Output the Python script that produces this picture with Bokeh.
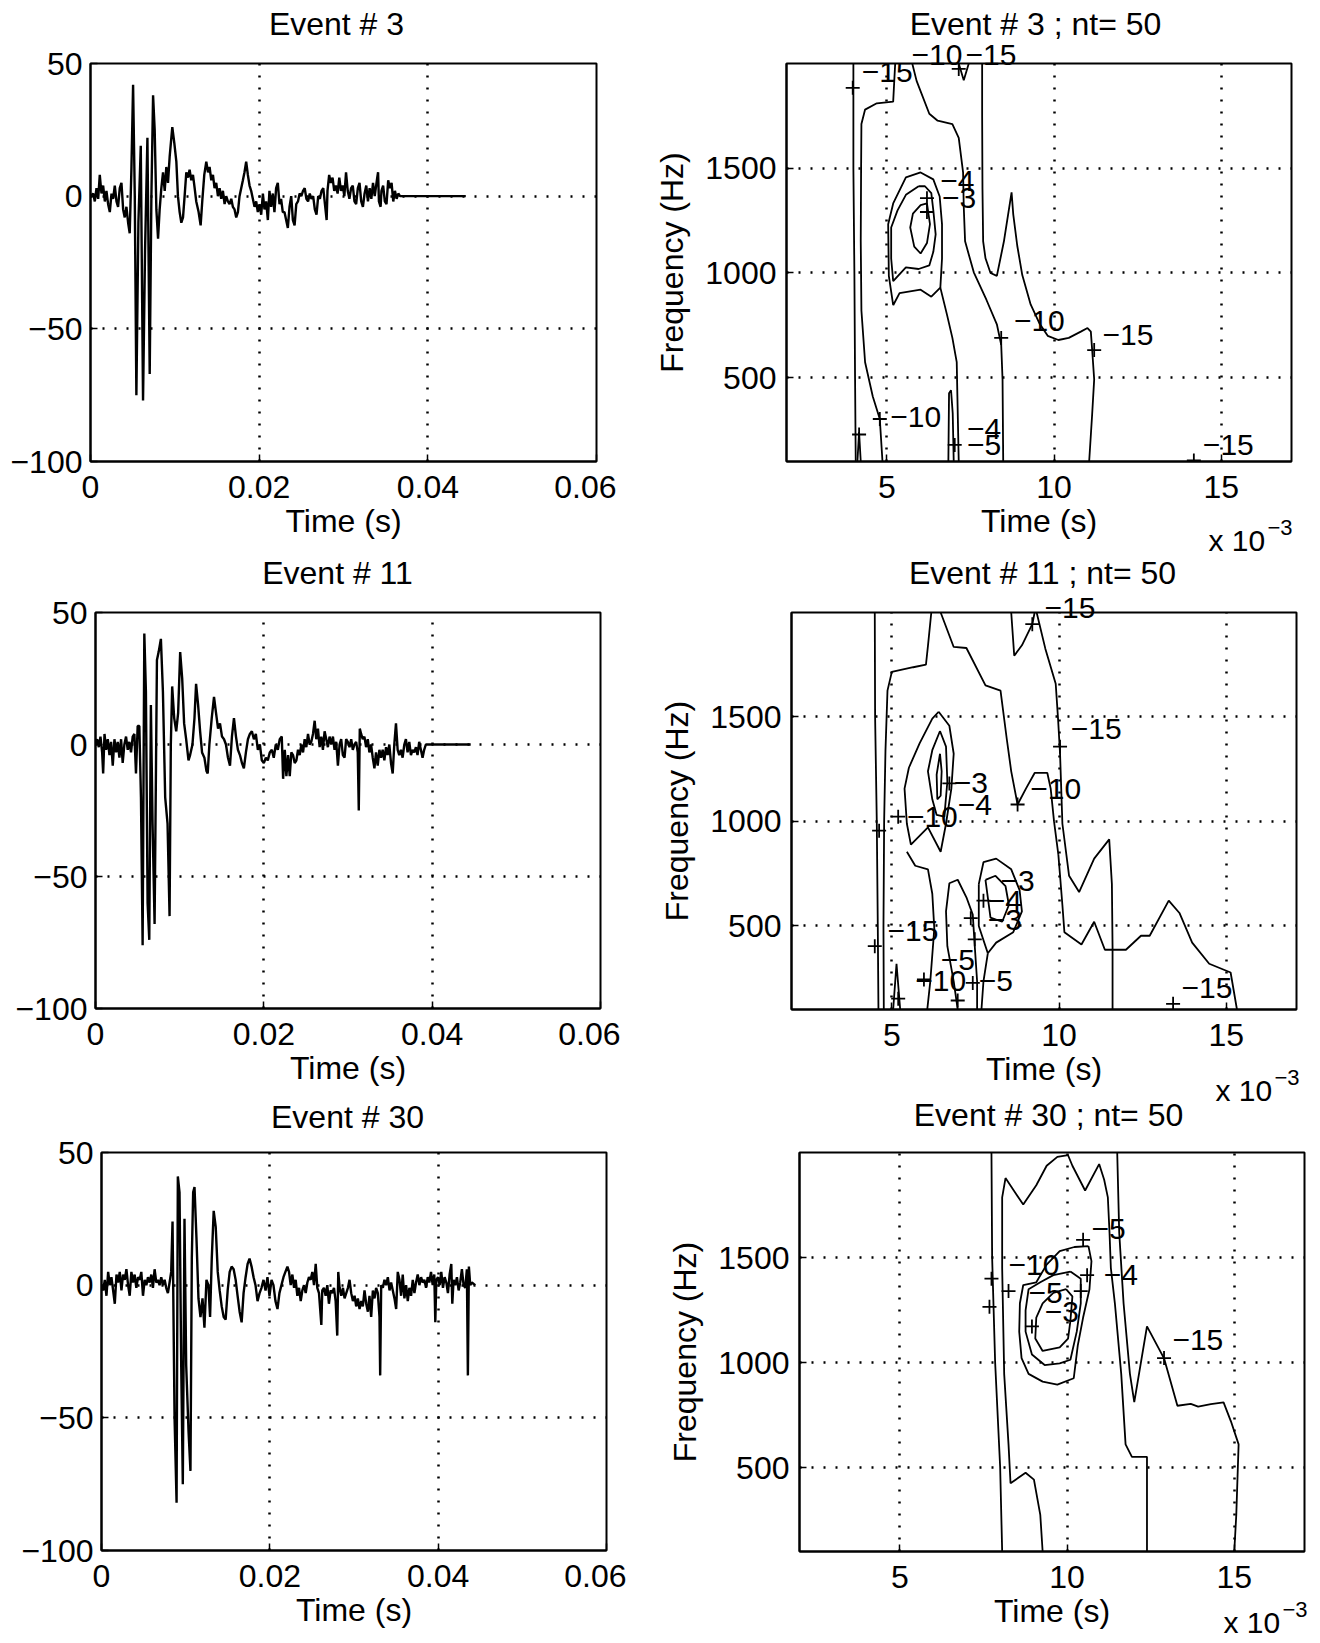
from bokeh.plotting import figure
from bokeh.layouts import column, row
from bokeh.models import Range1d, FixedTicker, LabelSet, ColumnDataSource, GridBox
from bokeh.embed import file_html
from bokeh.resources import INLINE
from bokeh.core.properties import value

FONT = "Liberation Sans"

# ---------------- waveform data: (time in ms, amplitude) ----------------
EV3 = [
(0.0,0),(0.32,1),(0.51,-2),(0.71,3),(0.91,-1),(1.10,8),(1.30,1),(1.50,4),(1.70,-2),(1.89,2),
(2.09,-3),(2.29,-6),(2.49,1),(2.68,-1),(2.88,4),(3.08,-2),(3.27,-4),(3.47,3),(3.67,5),(3.87,-5),
(4.06,-8),(4.26,-4),(4.46,-10),(4.65,-14),(4.85,10),(5.05,42),(5.25,0),(5.44,-75),(5.68,-10),(5.96,19),
(6.23,-77),(6.47,-20),(6.75,22),(7.02,-67),(7.22,0),(7.42,38),(7.61,25),(7.81,-5),(8.01,-16),(8.20,-5),
(8.40,3),(8.60,9),(8.80,2),(8.99,11),(9.19,5),(9.39,15),(9.70,26),(9.94,20),(10.18,13),(10.37,0),
(10.57,-6),(10.77,-10),(10.97,-8),(11.16,0),(11.36,9),(11.56,7),(11.75,10),(11.95,6),(12.15,8),(12.35,3),
(12.54,-2),(12.82,-6),(13.06,-11),(13.25,-2),(13.49,8),(13.73,13),(13.93,9),(14.12,11),(14.32,6),(14.52,8),
(14.71,3),(14.91,5),(15.11,0),(15.31,3),(15.50,-1),(15.70,2),(15.90,-3),(16.09,0),(16.29,-2),(16.49,-3),
(16.69,-1),(16.88,-4),(17.08,-5),(17.28,-8),(17.48,-6),(17.67,0),(17.87,3),(18.07,6),(18.26,9),(18.46,13),
(18.66,8),(18.86,4),(19.05,2),(19.25,-1),(19.45,-4),(19.65,-2),(19.84,-6),(20.04,-3),(20.24,-7),(20.44,1),
(20.63,-5),(20.83,-2),(21.03,-9),(21.22,2),(21.42,-4),(21.62,1),(21.81,-6),(22.01,3),(22.21,5),(22.41,-3),
(22.60,-1),(22.8,-6),(23.0,-6),(23.2,-9),(23.4,-12),(23.6,-4),(23.8,0),(24.0,-9),(24.2,-11),(24.4,-3),
(24.6,-2),(24.8,1),(25.0,0),(25.2,2),(25.4,3),(25.6,-1),(25.8,-2),(26.0,1),(26.2,-1),(26.4,0),
(26.6,-5),(26.8,-7),(27.0,0),(27.2,-1),(27.4,2),(27.6,3),(27.8,-3),(28.0,-9),(28.1,2),(28.3,8),
(28.5,5),(28.7,7),(28.9,2),(29.1,4),(29.3,1),(29.5,7),(29.7,2),(29.9,4),(30.1,0),(30.3,9),
(30.5,2),(30.7,-1),(30.9,3),(31.1,4),(31.3,-2),(31.5,-3),(31.7,3),(31.9,5),(32.1,-2),(32.3,-4),
(32.5,1),(32.7,4),(32.9,-2),(33.1,3),(33.3,-1),(33.5,5),(33.7,0),(34.0,7),(34.1,9),(34.2,-2),
(34.4,-4),(34.5,2),(34.7,4),(34.9,-2),(35.1,-3),(35.3,6),(35.5,3),(35.7,5),(35.9,-2),(36.1,2),
(36.3,-1),(36.5,1),(36.7,0),(36.8,0),(44.5,0)]

EV11 = [
(0.0,0),(0.2,2),(0.39,-1),(0.59,3),(0.79,-3),(0.91,-11),(1.07,4),(1.26,-2),(1.46,2),(1.66,-4),
(1.85,1),(2.05,-8),(2.25,2),(2.45,-3),(2.64,1),(2.84,-5),(3.04,2),(3.23,-7),(3.43,0),(3.63,3),
(3.83,-2),(4.02,1),(4.22,-3),(4.42,3),(4.62,4),(4.81,-11),(5.01,7),(5.21,7),(5.40,-20),(5.60,-76),
(5.80,42),(5.99,20),(6.19,-60),(6.39,-74),(6.58,15),(6.78,-30),(7.02,-68),(7.30,32),(7.50,35),(7.77,40),
(8.01,20),(8.28,-20),(8.56,-30),(8.80,-65),(8.95,0),(9.11,22),(9.35,10),(9.59,5),(9.82,12),(10.06,35),
(10.30,25),(10.53,8),(10.77,2),(11.05,-6),(11.24,-4),(11.52,0),(11.76,10),(11.95,23),(12.19,15),(12.43,5),
(12.66,-3),(12.94,-5),(13.18,-10),(13.33,-11),(13.53,0),(13.81,10),(14.08,18),(14.32,12),(14.56,6),(14.79,8),
(15.03,3),(15.27,2),(15.50,0),(15.74,-5),(15.98,-8),(16.21,3),(16.45,10),(16.69,3),(16.92,-2),(17.16,-4),
(17.40,-7),(17.63,-9),(17.87,-3),(18.11,2),(18.34,4),(18.58,5),(18.82,2),(19.05,4),(19.29,-2),(19.53,0),
(19.76,-6),(20.00,-7),(20.24,-5),(20.47,-6),(20.71,-3),(20.95,-2),(21.18,-5),(21.42,0),(21.66,-2),(21.89,2),
(22.13,3),(22.29,-13),(22.49,-2),(22.68,-12),(22.88,-4),(23.08,-12),(23.27,-3),(23.47,-4),(23.67,-7),(23.87,-6),
(24.06,-2),(24.26,-4),(24.46,0),(24.66,-3),(24.85,2),(25.05,-1),(25.25,4),(25.44,0),(25.64,1),(25.84,4),
(26.04,9),(26.23,2),(26.43,6),(26.63,-1),(26.83,3),(27.02,-2),(27.22,5),(27.42,2),(27.61,-1),(27.81,3),
(28.01,0),(28.21,3),(28.40,-2),(28.60,1),(28.80,-8),(29.00,0),(29.19,2),(29.39,-4),(29.59,-5),(29.78,2),
(29.98,1),(30.18,-1),(30.38,2),(30.57,-2),(30.77,0),(30.97,1),(31.16,-3),(31.28,-25),(31.40,6),(31.56,4),
(31.75,2),(31.95,3),(32.15,-1),(32.35,2),(32.54,-3),(32.74,0),(32.94,-5),(33.14,-9),(33.33,-3),(33.53,-8),
(33.73,-2),(33.93,-5),(34.12,-2),(34.32,-6),(34.52,-1),(34.71,-4),(34.91,0),(35.11,-7),(35.31,-11),(35.50,0),
(35.70,8),(35.90,-2),(36.09,-4),(36.29,-2),(36.49,-5),(36.69,0),(36.88,2),(37.08,-3),(37.28,1),(37.48,-4),
(37.67,-2),(37.87,-3),(38.07,-1),(38.26,-4),(38.46,1),(38.66,-2),(38.86,-5),(39.05,-2),(39.25,0),(39.45,0),
(44.58,0)]

EV30 = [
(0.0,0),(0.20,-2),(0.39,2),(0.59,-4),(0.79,5),(0.99,0),(1.18,3),(1.38,-2),(1.58,-7),(1.78,4),
(1.97,1),(2.17,5),(2.37,-2),(2.56,4),(2.76,2),(2.96,6),(3.16,0),(3.35,-4),(3.55,5),(3.75,1),
(3.94,4),(4.14,-1),(4.34,3),(4.54,2),(4.73,5),(4.93,-4),(5.13,2),(5.33,0),(5.52,3),(5.72,1),
(5.92,4),(6.11,-1),(6.31,6),(6.51,1),(6.71,2),(6.90,0),(7.10,3),(7.30,0),(7.50,2),(7.69,-1),
(7.89,-3),(8.09,1),(8.28,5),(8.44,24),(8.68,-50),(8.92,-82),(9.07,41),(9.27,35),(9.47,-30),(9.66,-75),
(9.86,25),(10.06,-30),(10.34,-55),(10.57,-70),(10.73,10),(10.89,35),(11.05,37),(11.28,18),(11.52,-5),(11.76,-12),
(12.00,-5),(12.23,-16),(12.47,2),(12.70,0),(12.90,-12),(13.10,10),(13.33,28),(13.57,22),(13.81,5),(14.04,-2),
(14.28,-8),(14.52,-12),(14.75,-13),(14.99,-2),(15.23,5),(15.46,7),(15.70,6),(15.94,2),(16.17,-4),(16.41,-10),
(16.65,-14),(16.88,-3),(17.12,3),(17.36,8),(17.59,10),(17.83,7),(18.07,3),(18.30,0),(18.54,-6),(18.78,-3),
(19.01,-1),(19.25,2),(19.49,-2),(19.72,3),(19.96,-4),(20.20,2),(20.43,0),(20.67,-6),(20.91,-9),(21.14,-3),
(21.38,0),(21.62,3),(21.85,5),(22.09,7),(22.28,5),(22.48,0),(22.68,4),(22.88,-1),(23.07,2),(23.27,-4),
(23.47,-1),(23.67,-6),(23.86,-2),(24.06,0),(24.26,-3),(24.46,1),(24.65,3),(24.85,2),(25.05,5),(25.25,0),
(25.45,8),(25.64,-1),(25.84,-3),(26.12,-15),(26.23,-2),(26.43,-1),(26.63,-4),(26.83,0),(27.02,-7),(27.22,-2),
(27.42,-3),(27.62,-1),(27.82,-6),(28.01,-19),(28.13,5),(28.29,-1),(28.49,-4),(28.69,-1),(28.88,-5),(29.08,-3),
(29.28,-1),(29.47,2),(29.67,-3),(29.87,-6),(30.07,-4),(30.26,-8),(30.46,-5),(30.66,-9),(30.86,-6),(31.05,-8),
(31.25,-2),(31.45,-7),(31.65,-10),(31.84,-4),(32.04,-12),(32.24,-2),(32.44,-5),(32.63,-1),(32.83,-3),(33.03,-12),
(33.11,-34),(33.23,0),(33.43,-1),(33.62,2),(33.82,0),(34.02,3),(34.22,-2),(34.41,1),(34.61,-2),(34.81,-5),
(35.01,-9),(35.20,5),(35.40,2),(35.60,-4),(35.79,4),(35.99,-5),(36.19,0),(36.39,-6),(36.58,-1),(36.78,-4),
(36.98,2),(37.18,-3),(37.37,1),(37.57,4),(37.77,0),(37.97,3),(38.16,1),(38.36,2),(38.56,-1),(38.76,3),
(38.95,1),(39.15,5),(39.35,0),(39.54,4),(39.66,-14),(39.78,2),(39.98,3),(40.18,0),(40.37,5),(40.57,-1),
(40.77,3),(40.97,1),(41.16,-3),(41.36,4),(41.56,8),(41.68,-7),(41.83,2),(42.03,0),(42.23,3),(42.43,-2),
(42.62,1),(42.82,6),(43.02,0),(43.22,-1),(43.41,6),(43.53,-34),(43.65,7),(43.81,0),(44.00,1),(44.40,0)]

# ---------------- contour data (time in 1e-3 s, frequency in Hz) ----------------
C3_XS = [
 [4.0,4.0,4.03,4.05,4.07],
 [4.12,4.17,4.22],
 [5.25,5.22,5.19,4.7,4.35,4.24,4.23,4.22,4.24,4.35,4.58,4.79,4.87],
 [5.76,5.89,6.27,6.52,6.96,7.15,7.28,7.30,7.34,7.6,7.98,8.29,8.42,8.46,8.48],
 [7.15,7.3,7.45],
 [7.85,7.85,7.86,7.88,7.95,8.1,8.29,8.5,8.73,8.78,8.9,9.05,9.3,9.56,9.81,10.13,10.44,10.8,11.0,11.1,11.14,11.2,11.14,11.05],
 [6.2,6.29,6.2,6.01,5.82,5.7,5.78,6.01,6.2],
 [5.95,6.14,6.33,6.39,6.46,6.39,6.27,5.95,5.57,5.19,5.13,5.13,5.32,5.57,5.95],
 [5.19,5.06,5.04,5.19,5.57,6.01,6.39,6.58,6.65,6.65,6.6,6.33,6.01,5.38,5.19],
 [6.6,6.8,6.96,7.09,7.11,7.15],
 [6.84,6.86,6.92,6.97,7.0],
]
C3_YS = [
 [2000,1500,1000,500,100],
 [100,240,100],
 [2000,1910,1818,1810,1780,1711,1480,1151,821,574,410,303,100],
 [2000,1917,1760,1727,1711,1645,1480,1316,1151,1003,871,755,657,492,100],
 [2000,1920,2000],
 [2000,1750,1400,1151,1070,1000,986,1150,1385,1280,1130,990,850,760,700,680,690,720,737,720,632,492,327,100],
 [1332,1233,1143,1093,1126,1217,1283,1324,1332],
 [1414,1414,1381,1299,1184,1101,1036,1019,1027,961,1069,1217,1299,1373,1414],
 [846,986,1233,1332,1456,1480,1447,1365,1233,1069,930,887,920,904,846],
 [930,800,690,574,410,100],
 [100,426,440,330,100],
]
C3_LAB_TXT = ["−15","−4","−3","−10","−15","−10","−4","−5","−15"]
C3_LAB_X = [4.25,6.60,6.65,8.80,11.45,5.10,7.40,7.40,14.45]
C3_LAB_Y = [1958,1440,1357,772,706,311,253,179,179]
C3_PLUS_X = [3.98,7.15,6.20,6.20,8.42,11.20,4.79,4.17,7.03,14.18]
C3_PLUS_Y = [1884,1974,1357,1291,690,632,303,229,179,105]

C11_XS = [
 [4.49,4.5,4.55,4.58,4.6],
 [6.18,6.08,6.02,5.64,5.0,4.87,4.81,4.77,4.75,4.76],
 [5.04,5.14,5.25],
 [6.46,6.85,7.23,7.8,8.25,8.44,8.57,8.76,9.01,9.27,9.65,9.75,9.85,9.98],
 [9.33,9.59,9.9,9.97,10.03,10.1,10.3,10.6,11.05,11.5,11.58,11.6,11.6],
 [9.98,10.1,10.16,10.67,11.05,11.37,12.0,12.45,12.71,13.28,13.6,13.98,14.49,15.13,15.32],
 [8.57,8.66,8.89,9.2,9.27],
 [6.4,6.72,6.85,6.78,6.62,6.46,6.08,5.57,5.45,5.38,5.51,5.83,6.21,6.4],
 [6.44,6.62,6.66,6.57,6.34,6.21,6.08,6.21,6.44],
 [6.44,6.49,6.46,6.36,6.34,6.44],
 [5.45,5.7,6.08,6.21,6.27,6.15,6.06],
 [6.97,6.85,6.66,6.62,6.72,6.97,7.23,7.42,7.48,7.55,7.55],
 [7.6,7.74,8.12,8.57,8.82,8.89,8.63,8.12,7.87,7.6,7.6],
 [7.87,7.74,7.68],
 [7.8,8.1,8.4,8.5,8.3,7.95,7.8],
]
C11_YS = [
 [2000,1500,1000,500,100],
 [2000,1840,1750,1738,1716,1626,1340,1000,500,100],
 [100,319,100],
 [2000,1835,1830,1651,1626,1391,1240,1081,1157,1232,1232,1157,1000,840],
 [2000,1827,1659,1492,1324,989,740,662,822,914,700,400,100],
 [840,600,470,411,520,386,386,453,453,621,562,420,319,277,100],
 [2000,1793,1843,1944,2000],
 [1525,1458,1324,1157,989,855,972,889,989,1157,1257,1374,1492,1525],
 [1433,1358,1190,1023,1031,1106,1240,1341,1433],
 [1324,1240,1123,1106,1224,1324],
 [855,788,771,654,487,235,101],
 [100,235,403,570,704,721,637,554,403,235,100],
 [700,805,822,771,671,570,470,420,369,500,700],
 [369,235,100],
 [720,740,690,600,520,540,720],
]
C11_LAB_TXT = ["−15","−10","−3","−4","−10","−3","−4","−3","−15","−5","−10","−5","−15"]
C11_LAB_X = [10.35,9.14,6.85,6.97,5.45,8.25,7.87,7.87,4.87,6.46,5.70,7.60,13.66]
C11_LAB_Y = [1441,1157,1182,1081,1023,713,621,529,478,336,235,235,202]
C11_PLUS_X = [9.20,10.03,8.76,6.72,5.19,4.62,7.74,7.36,4.49,7.48,5.96,7.42,5.19,6.97,13.41]
C11_PLUS_Y = [1944,1358,1081,1182,1023,956,621,537,403,436,244,227,152,143,127]

C30_XS = [
 [7.74,7.76,7.85,8.0,8.06],
 [9.27,9.2,9.01,8.76,8.31,8.25,8.12,8.06,8.06,8.16,8.69,9.08,9.39,9.71,10.03,10.16,10.54,10.96,11.11,11.22,11.27,11.31,11.43,11.62,11.75,11.94,12.39,12.39],
 [11.5,11.56,11.69,11.88,12.01,12.39,12.9,13.3,13.7,13.92,14.3,14.68,14.9,15.13,15.06,15.0],
 [10.64,10.73,10.67,10.48,10.32,10.2,9.71,9.27,8.85,8.64,8.57,8.59,8.69,9.08,9.39,9.78,10.22,10.64],
 [10.1,10.41,10.41,10.29,10.1,9.78,9.33,8.95,8.76,8.76,8.85,9.2,9.59,10.1],
 [9.97,10.16,10.1,10.03,9.78,9.27,9.05,9.08,9.27,9.59,9.97],
]
C30_YS = [
 [2000,1500,1000,500,100],
 [100,274,442,475,425,610,946,1450,1786,1878,1752,1844,1937,1979,1987,1937,1819,1945,1870,1786,1618,1450,1282,946,610,551,551,100],
 [2000,1618,1282,946,811,1172,1020,794,803,790,802,810,720,610,274,100],
 [1554,1483,1349,1214,1080,925,895,909,946,1021,1147,1282,1369,1382,1466,1530,1550,1554],
 [1433,1399,1282,1147,1013,996,988,1038,1147,1248,1349,1382,1416,1433],
 [1349,1315,1198,1114,1072,1055,1114,1214,1282,1332,1349],
]
C30_LAB_TXT = ["−10","−5","−3","−5","−4","−15"]
C30_LAB_X = [8.25,8.85,9.33,10.73,11.10,13.15]
C30_LAB_Y = [1466,1332,1240,1634,1416,1105]
C30_PLUS_X = [7.74,7.68,8.25,8.95,10.48,10.60,10.41,12.90]
C30_PLUS_Y = [1399,1265,1340,1172,1584,1416,1340,1021]

WAVE_XTICKS = [0, 0.02, 0.04, 0.06]
WAVE_XLABELS = ["0", "0.02", "0.04", "0.06"]
WAVE_YTICKS = [50, 0, -50, -100]
WAVE_YLABELS = ["50", "0", "−50", "−100"]
SPEC_XTICKS = [5, 10, 15]
SPEC_YTICKS = [500, 1000, 1500]

# texts that sit outside the plot frames (page pixel positions, text centre)
TITLE_TXT = ["Event # 3", "Event # 3 ; nt= 50", "Event # 11", "Event # 11 ; nt= 50",
             "Event # 30", "Event # 30 ; nt= 50"]
TITLE_X = [336, 1035, 337, 1042, 347, 1048]
TITLE_Y = [23, 23, 572, 572, 1116, 1114]
MULT_X = [1208, 1215, 1223]
MULT_Y = [540, 1090, 1622]
SUP_X = [1267, 1274, 1282]
SUP_Y = [527, 1077, 1609]
EDGE_LAB_TXT = ["−10", "−15", "−15"]
EDGE_LAB_X = [911, 965, 1044]
EDGE_LAB_Y = [54, 54, 607]

PAGE_W, PAGE_H = 1319, 1643


def base_fig(xr, yr, fw, fh, bl, br, bt, bb):
    p = figure(x_range=Range1d(*xr), y_range=Range1d(*yr),
               frame_width=fw, frame_height=fh,
               min_border_left=bl, min_border_right=br,
               min_border_top=bt, min_border_bottom=bb,
               output_backend="svg", toolbar_location=None, title_location=None,
               background_fill_color="white", border_fill_color="white")
    p.outline_line_color = "black"
    p.outline_line_width = 2
    p.outline_line_alpha = 1
    for ax in (p.xaxis[0], p.yaxis[0]):
        ax.axis_line_color = "black"
        ax.axis_line_width = 2
        ax.major_tick_in = 7
        ax.major_tick_out = 0
        ax.major_tick_line_color = "black"
        ax.major_tick_line_width = 1.5
        ax.minor_tick_line_color = None
        ax.major_label_text_font = FONT
        ax.major_label_text_font_size = "32px"
        ax.major_label_text_color = "black"
        ax.axis_label_text_font = FONT
        ax.axis_label_text_font_size = "32px"
        ax.axis_label_text_font_style = "normal"
        ax.axis_label_text_color = "black"
    p.xaxis[0].major_label_standoff = 14
    p.xaxis[0].axis_label_standoff = 2
    p.grid.grid_line_color = "black"
    p.grid.grid_line_dash = "2 10"
    p.grid.grid_line_width = 2.5
    p.grid.grid_line_alpha = 1
    return p


def wave_fig(data, bl, br, bt, bb, fw=505, fh=398):
    p = base_fig((0, 0.06), (-100, 50), fw, fh, bl, br, bt, bb)
    xt = FixedTicker(ticks=WAVE_XTICKS)
    yt = FixedTicker(ticks=WAVE_YTICKS)
    p.xaxis[0].ticker = xt
    p.yaxis[0].ticker = yt
    p.xgrid[0].ticker = xt
    p.ygrid[0].ticker = yt
    p.xaxis[0].major_label_overrides = dict(zip(WAVE_XTICKS, WAVE_XLABELS))
    p.yaxis[0].major_label_overrides = dict(zip(WAVE_YTICKS, WAVE_YLABELS))
    p.yaxis[0].major_label_standoff = 8
    p.xaxis[0].axis_label = "Time (s)"
    t = [d[0] / 1000.0 for d in data]
    v = [d[1] for d in data]
    p.line(t, v, line_color="black", line_width=2.4)
    return p


def spec_fig(xs, ys, lt, lx, ly, px, py, bl, br, bt, bb, fw=505, fh=398):
    p = base_fig((2.0, 17.1), (100, 2000), fw, fh, bl, br, bt, bb)
    xt = FixedTicker(ticks=SPEC_XTICKS)
    yt = FixedTicker(ticks=SPEC_YTICKS)
    p.xaxis[0].ticker = xt
    p.yaxis[0].ticker = yt
    p.xgrid[0].ticker = xt
    p.ygrid[0].ticker = yt
    p.yaxis[0].major_label_standoff = 10
    p.yaxis[0].axis_label = "Frequency (Hz)"
    p.yaxis[0].axis_label_standoff = 12
    p.xaxis[0].axis_label = "Time (s)"
    p.multi_line(xs, ys, line_color="black", line_width=1.8)
    p.scatter(px, py, marker="cross", size=14, line_color="black", line_width=1.8)
    src = ColumnDataSource(dict(x=lx, y=ly, t=lt))
    p.add_layout(LabelSet(x="x", y="y", text="t", source=src,
                          text_font=value(FONT), text_font_size="30px",
                          text_color="black", text_baseline="middle", text_align="left"))
    return p


p1 = wave_fig(EV3, bl=90, br=20, bt=63, bb=91, fw=506)
p2 = spec_fig(C3_XS, C3_YS, C3_LAB_TXT, C3_LAB_X, C3_LAB_Y, C3_PLUS_X, C3_PLUS_Y,
              bl=170, br=28, bt=62, bb=92)
p3 = wave_fig(EV11, bl=95, br=20, bt=60, bb=90, fh=396)
p4 = spec_fig(C11_XS, C11_YS, C11_LAB_TXT, C11_LAB_X, C11_LAB_Y, C11_PLUS_X, C11_PLUS_Y,
              bl=171, br=23, bt=57, bb=92, fh=397)
p5 = wave_fig(EV30, bl=101, br=20, bt=54, bb=90)
p6 = spec_fig(C30_XS, C30_YS, C30_LAB_TXT, C30_LAB_X, C30_LAB_Y, C30_PLUS_X, C30_PLUS_Y,
              bl=173, br=15, bt=52, bb=91, fh=399)

main = column(row(p1, p2), row(p3, p4), row(p5, p6))
main.align = "start"

# transparent overlay carrying the texts placed outside the frames
ov = figure(width=PAGE_W, height=PAGE_H, x_range=Range1d(0, PAGE_W), y_range=Range1d(PAGE_H, 0),
            min_border=0, min_border_left=0, min_border_right=0, min_border_top=0, min_border_bottom=0,
            x_axis_location=None, y_axis_location=None, toolbar_location=None,
            title_location=None, output_backend="svg",
            background_fill_color=None, border_fill_color=None, outline_line_color=None)
ov.align = "start"
ov.grid.visible = False
ov.text(TITLE_X, TITLE_Y, text=TITLE_TXT, text_font=value(FONT), text_font_size="32px",
        text_color="black", text_align="center", text_baseline="middle")
ov.text(MULT_X, MULT_Y, text=["x 10"] * 3, text_font=value(FONT), text_font_size="30px",
        text_color="black", text_align="left", text_baseline="middle")
ov.text(SUP_X, SUP_Y, text=["−3"] * 3, text_font=value(FONT), text_font_size="22px",
        text_color="black", text_align="left", text_baseline="middle")
ov.text(EDGE_LAB_X, EDGE_LAB_Y, text=EDGE_LAB_TXT, text_font=value(FONT), text_font_size="30px",
        text_color="black", text_align="left", text_baseline="middle")

layout = GridBox(children=[(main, 0, 0), (ov, 0, 0)], align="start")
open("out.html", "w").write(file_html(layout, INLINE))
